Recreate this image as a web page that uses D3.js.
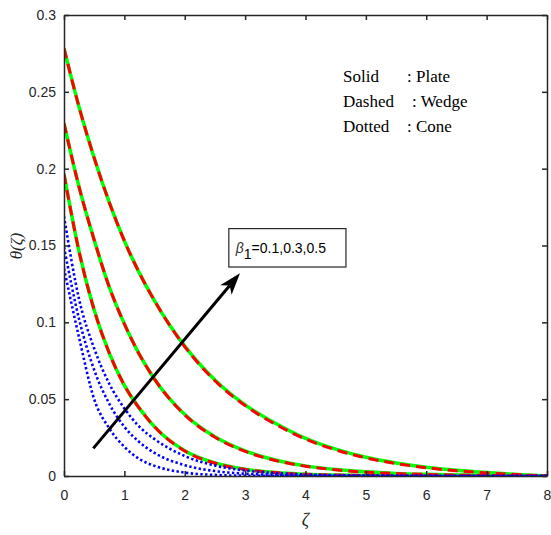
<!DOCTYPE html>
<html>
<head>
<meta charset="utf-8">
<script src="https://cdn.jsdelivr.net/npm/d3@7"></script>
<style>
  body { margin: 0; background: #fff; }
  svg { display: block; }
</style>
</head>
<body>
<div id="chart"></div>
<script>
// sample points along zeta
var zeta = [0, 0.25, 0.5, 0.75, 1, 1.25, 1.5, 2, 2.5, 3, 3.5, 4, 4.5, 5, 5.5, 6, 6.5, 7, 7.5, 8];

// Plate (solid green), beta1 = 0.1, 0.3, 0.5
var plate1 = [0.1965, 0.146, 0.108, 0.080, 0.059, 0.044, 0.032, 0.0165, 0.0085, 0.0044, 0.0023, 0.0012, 0.0006, 0.0003, 0.0002, 0.0001, 0.0001, 0, 0, 0];
var plate2 = [0.2295, 0.188, 0.1536, 0.123, 0.099, 0.079, 0.063, 0.040, 0.0255, 0.0163, 0.0104, 0.0066, 0.0042, 0.0027, 0.0017, 0.0011, 0.0007, 0.0004, 0.0002, 0];
var plate3 = [0.2783, 0.240, 0.207, 0.178, 0.153, 0.132, 0.114, 0.0845, 0.0625, 0.0463, 0.0343, 0.0245, 0.0175, 0.0122, 0.0085, 0.0057, 0.0037, 0.0022, 0.0010, 0];

// Wedge (dashed red)
var wedge1 = [0.1965, 0.146, 0.108, 0.080, 0.059, 0.044, 0.032, 0.0163, 0.0083, 0.0043, 0.0022, 0.0011, 0.0006, 0.0003, 0.0001, 0.0001, 0, 0, 0, 0];
var wedge2 = [0.2295, 0.188, 0.1536, 0.123, 0.099, 0.079, 0.063, 0.0398, 0.0252, 0.016, 0.0101, 0.0064, 0.004, 0.0025, 0.0016, 0.001, 0.0006, 0.0003, 0.0001, 0];
var wedge3 = [0.2783, 0.240, 0.207, 0.178, 0.153, 0.132, 0.114, 0.0842, 0.0620, 0.0458, 0.0337, 0.0240, 0.0170, 0.0118, 0.0081, 0.0054, 0.0034, 0.0020, 0.0009, 0];

// Cone (dotted blue)
var cone1 = [0.135, 0.09, 0.05, 0.031, 0.019, 0.011, 0.0066, 0.0022, 0.0007, 0.0002, 0.0001, 0, 0, 0, 0, 0, 0, 0, 0, 0];
var cone2 = [0.149, 0.102, 0.069, 0.047, 0.032, 0.022, 0.015, 0.007, 0.0032, 0.0015, 0.0007, 0.0003, 0.0002, 0.0001, 0, 0, 0, 0, 0, 0];
var cone3 = [0.169, 0.115, 0.083, 0.060, 0.044, 0.032, 0.024, 0.013, 0.0068, 0.0036, 0.0019, 0.001, 0.0005, 0.0003, 0.0002, 0.0001, 0, 0, 0, 0];

var xTicks = [0, 1, 2, 3, 4, 5, 6, 7, 8];
var yTicks = [0, 0.05, 0.1, 0.15, 0.2, 0.25, 0.3];
var yTickLabels = ["0", "0.05", "0.1", "0.15", "0.2", "0.25", "0.3"];

var legendLeft = ["Solid", "Dashed", "Dotted"];
var legendRight = [": Plate", ": Wedge", ": Cone"];

var width = 551, height = 535;
var margin = {left: 64, right: 4, top: 15, bottom: 59};
var axisColor = "#262626";

var svg = d3.select("#chart").append("svg")
  .attr("width", width)
  .attr("height", height)
  .style("background", "#fff");

var x = d3.scaleLinear().domain([0, 8]).range([margin.left, width - margin.right]);
var y = d3.scaleLinear().domain([0, 0.3]).range([height - margin.bottom, margin.top]);

svg.append("clipPath").attr("id", "plotclip")
  .append("rect")
  .attr("x", x(0)).attr("y", y(0.3))
  .attr("width", x(8) - x(0)).attr("height", y(0) - y(0.3));

var line = d3.line()
  .x(function(d, i) { return x(zeta[i]); })
  .y(function(d) { return y(d); })
  .curve(d3.curveMonotoneX);

var curves = svg.append("g").attr("clip-path", "url(#plotclip)");

[plate1, plate2, plate3].forEach(function(s) {
  curves.append("path").attr("d", line(s))
    .style("fill", "none").style("stroke", "#00ff00").style("stroke-width", 3.5);
});
[wedge1, wedge2, wedge3].forEach(function(s) {
  curves.append("path").attr("d", line(s))
    .style("fill", "none").style("stroke", "#ff0000").style("stroke-width", 3)
    .style("stroke-dasharray", "10,6");
});
[cone1, cone2, cone3].forEach(function(s) {
  curves.append("path").attr("d", line(s))
    .style("fill", "none").style("stroke", "#0000ff").style("stroke-width", 2.6)
    .style("stroke-dasharray", "2.4,2.4");
});

// axes, ticks pointing inward on all four sides
function styleAxis(g) {
  g.selectAll("path.domain").style("stroke", axisColor).style("stroke-width", 1.5);
  g.selectAll(".tick line").style("stroke", axisColor).style("stroke-width", 1.5);
  g.selectAll(".tick text")
    .style("fill", axisColor)
    .style("font-family", "'Liberation Sans', Arial, sans-serif")
    .style("font-size", "14px");
}

svg.append("g")
  .attr("transform", "translate(0," + y(0) + ")")
  .call(d3.axisBottom(x).tickValues(xTicks).tickSize(-5).tickSizeOuter(0).tickPadding(14).tickFormat(d3.format("d")))
  .call(styleAxis);

svg.append("g")
  .attr("transform", "translate(0," + y(0.3) + ")")
  .call(d3.axisTop(x).tickValues(xTicks).tickSize(-5).tickSizeOuter(0).tickFormat(""))
  .call(styleAxis);

svg.append("g")
  .attr("transform", "translate(" + x(0) + ",0)")
  .call(d3.axisLeft(y).tickValues(yTicks).tickSize(-5).tickSizeOuter(0).tickPadding(8)
    .tickFormat(function(d, i) { return yTickLabels[i]; }))
  .call(styleAxis);

svg.append("g")
  .attr("transform", "translate(" + x(8) + ",0)")
  .call(d3.axisRight(y).tickValues(yTicks).tickSize(-5).tickSizeOuter(0).tickFormat(""))
  .call(styleAxis);

// axis labels
svg.append("text")
  .attr("x", (x(0) + x(8)) / 2)
  .attr("y", 526)
  .attr("text-anchor", "middle")
  .style("font-family", "'Liberation Serif', 'Times New Roman', serif")
  .style("font-style", "italic")
  .style("font-size", "18px")
  .style("fill", axisColor)
  .text("ζ");

svg.append("text")
  .attr("transform", "translate(22,246) rotate(-90)")
  .attr("text-anchor", "middle")
  .style("font-family", "'Liberation Serif', 'Times New Roman', serif")
  .style("font-style", "italic")
  .style("font-size", "17px")
  .style("fill", axisColor)
  .text("θ(ζ)");

// legend text
var legend = svg.append("g")
  .style("font-family", "'Liberation Serif', 'Times New Roman', serif")
  .style("font-size", "17px")
  .style("fill", "#000");
var colonX = [407, 412, 407];
legendLeft.forEach(function(t, i) {
  legend.append("text").attr("x", 343).attr("y", 82 + i * 25).text(t);
  legend.append("text").attr("x", colonX[i]).attr("y", 82 + i * 25).text(legendRight[i]);
});

// annotation arrow
var arrowStart = [0.485, 0.018], arrowEnd = [2.915, 0.132];
var x0 = x(arrowStart[0]), y0 = y(arrowStart[1]), x1 = x(arrowEnd[0]), y1 = y(arrowEnd[1]);
var ang = Math.atan2(y1 - y0, x1 - x0);
var headLen = 22, headW = 7.5, notch = 16;
var ux = Math.cos(ang), uy = Math.sin(ang);
svg.append("line")
  .attr("x1", x0).attr("y1", y0)
  .attr("x2", x1 - ux * notch).attr("y2", y1 - uy * notch)
  .style("stroke", "#000").style("stroke-width", 3);
var head = [
  [x1, y1],
  [x1 - ux * headLen - uy * headW, y1 - uy * headLen + ux * headW],
  [x1 - ux * notch, y1 - uy * notch],
  [x1 - ux * headLen + uy * headW, y1 - uy * headLen - ux * headW]
];
svg.append("path")
  .attr("d", "M" + head.map(function(p) { return p.join(","); }).join("L") + "Z")
  .style("fill", "#000");

// annotation box
var boxX0 = x(2.73), boxX1 = x(4.67), boxY0 = y(0.161), boxY1 = y(0.136);
svg.append("rect")
  .attr("x", boxX0).attr("y", boxY0)
  .attr("width", boxX1 - boxX0).attr("height", boxY1 - boxY0)
  .style("fill", "#fff").style("stroke", axisColor).style("stroke-width", 1.2);

var ann = svg.append("text")
  .attr("x", boxX0 + 7)
  .attr("y", boxY0 + 24)
  .style("font-family", "'Liberation Sans', Arial, sans-serif")
  .style("font-size", "14px")
  .style("fill", "#000");
ann.append("tspan").style("font-style", "italic").style("fill", "#333").text("β");
ann.append("tspan").attr("dy", 6).text("1");
ann.append("tspan").attr("dy", -6).text("=0.1,0.3,0.5");
</script>
</body>
</html>
